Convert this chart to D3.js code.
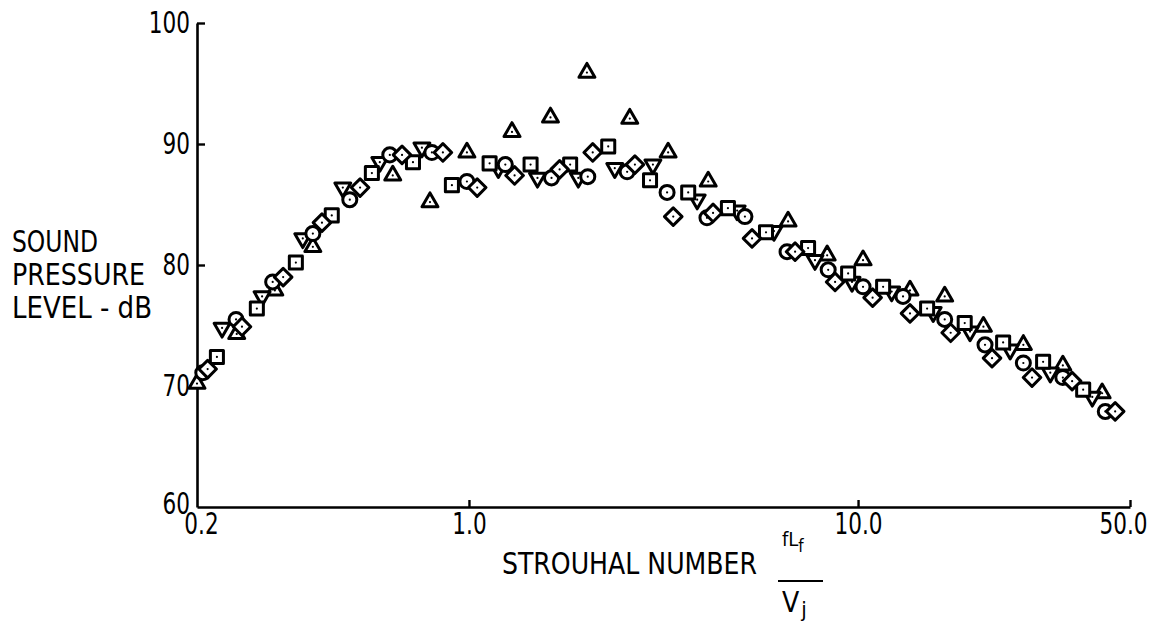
<!DOCTYPE html>
<html>
<head>
<meta charset="utf-8">
<script src="https://cdn.jsdelivr.net/npm/d3@7"></script>
<style>
  html, body { margin: 0; padding: 0; background: #fff; }
  svg text { font-family: "Liberation Sans Narrow", "DejaVu Sans Condensed", sans-serif; fill: #000; }
</style>
</head>
<body>
<svg id="chart" width="1163" height="624"></svg>
<script>
// ---- data (Strouhal number, SPL dB) ----
const xTicks = [0.2, 1.0, 10.0, 50.0];
const yTicks = [60, 70, 80, 90, 100];

const triUpX = [0.200, 0.253, 0.317, 0.397, 0.637, 0.794, 0.988, 1.29, 1.62, 2.01, 2.59, 3.25, 4.12, 6.61, 8.33, 10.3, 13.6, 16.7, 21.0, 26.6, 33.6, 42.4];
const triUpY = [70.2, 74.3, 77.9, 81.5, 87.4, 85.2, 89.3, 91.0, 92.2, 95.9, 92.1, 89.3, 86.9, 83.6, 80.8, 80.4, 77.9, 77.4, 74.9, 73.4, 71.7, 69.4];

const triDownX = [0.232, 0.294, 0.374, 0.474, 0.590, 0.757, 1.19, 1.50, 1.91, 2.37, 2.97, 3.86, 4.89, 6.08, 7.75, 9.65, 12.2, 15.6, 19.4, 24.6, 31.2, 40.0];
const triDownY = [74.8, 77.4, 82.2, 86.4, 88.5, 89.7, 88.0, 87.2, 87.2, 88.0, 88.3, 85.4, 84.5, 82.8, 80.4, 78.6, 77.8, 76.1, 74.5, 73.0, 71.1, 69.1];

const circleX = [0.207, 0.252, 0.313, 0.397, 0.494, 0.626, 0.803, 0.988, 1.24, 1.63, 2.02, 2.55, 3.23, 4.09, 5.12, 6.57, 8.38, 10.3, 13.05, 16.7, 21.2, 26.6, 33.6, 43.2];
const circleY = [71.1, 75.5, 78.6, 82.6, 85.4, 89.1, 89.3, 86.9, 88.3, 87.2, 87.3, 87.7, 86.0, 83.9, 84.0, 81.1, 79.6, 78.2, 77.4, 75.5, 73.4, 71.9, 70.7, 67.9];

const squareX = [0.225, 0.285, 0.359, 0.444, 0.563, 0.718, 0.904, 1.13, 1.44, 1.82, 2.28, 2.92, 3.66, 4.63, 5.80, 7.44, 9.43, 11.6, 15.05, 18.8, 23.6, 29.9, 37.9];
const squareY = [72.4, 76.4, 80.2, 84.1, 87.6, 88.5, 86.6, 88.4, 88.3, 88.3, 89.8, 87.0, 86.0, 84.7, 82.7, 81.4, 79.3, 78.2, 76.4, 75.2, 73.6, 72.0, 69.7];

const diamondX = [0.213, 0.261, 0.333, 0.419, 0.525, 0.673, 0.857, 1.05, 1.31, 1.71, 2.08, 2.67, 3.35, 4.24, 5.34, 6.89, 8.73, 10.9, 13.6, 17.3, 22.1, 28.0, 35.5, 45.8];
const diamondY = [71.4, 74.9, 79.0, 83.5, 86.4, 89.1, 89.3, 86.4, 87.4, 87.9, 89.3, 88.3, 84.0, 84.3, 82.2, 81.1, 78.6, 77.3, 76.0, 74.4, 72.3, 70.7, 70.4, 67.9];

const yTitleLines = ["SOUND", "PRESSURE", "LEVEL - dB"];
const xTitle = "STROUHAL NUMBER";

// ---- scales ----
const svg = d3.select("#chart");
const x = d3.scaleLog().domain([0.2, 50]).range([197, 1130]);
const y = d3.scaleLinear().domain([60, 100]).range([507, 23]);

const SX = 0.8; // horizontal squeeze for a condensed typewriter look

// ---- axes ----
const xAxis = d3.axisBottom(x).tickValues(xTicks).tickFormat(d3.format(".1f"))
  .tickSizeInner(-7).tickSizeOuter(0).tickPadding(6);
const yAxis = d3.axisLeft(y).tickValues(yTicks).tickFormat(d3.format("d"))
  .tickSizeInner(-8).tickSizeOuter(0).tickPadding(7);

const gx = svg.append("g").attr("transform", "translate(0,507)").call(xAxis);
const gy = svg.append("g").attr("transform", "translate(197,0)").call(yAxis);
[gx, gy].forEach(g => {
  g.select(".domain").attr("stroke", "#000").attr("stroke-width", 2.6);
  g.selectAll(".tick line").attr("stroke", "#000").attr("stroke-width", 2.4);
  g.selectAll(".tick text").attr("font-size", 30).attr("fill", "#000")
    .style("font-family", '"Liberation Sans Narrow", "DejaVu Sans Condensed", sans-serif')
    .attr("transform", `scale(${SX},1)`);
});
gy.selectAll(".tick text").attr("x", -7 / SX);
gy.selectAll(".tick").filter(d => d === 60).select("text").attr("dy", "0.2em");
gy.selectAll(".tick").filter(d => d === 60).select("line").remove();
gx.selectAll(".tick").filter(d => d === 0.2).select("line").remove();
gx.selectAll(".tick").filter(d => d === 0.2).select("text").attr("x", 4 / SX);
gx.selectAll(".tick").filter(d => d === 50).select("text").attr("x", -7 / SX);

// ---- titles ----
const titleWidths = [86, 133, 140];
yTitleLines.forEach((t, i) => {
  svg.append("text").attr("x", 12).attr("y", 252 + i * 33).attr("font-size", 31)
    .attr("textLength", titleWidths[i]).attr("lengthAdjust", "spacingAndGlyphs").text(t);
});
svg.append("text").attr("x", 502).attr("y", 574).attr("font-size", 31)
  .attr("textLength", 255).attr("lengthAdjust", "spacingAndGlyphs").text(xTitle);
// fraction fL_f / V_j
const num = svg.append("text").attr("x", 782).attr("y", 546).attr("font-size", 20);
num.append("tspan").text("fL");
num.append("tspan").attr("font-size", 17).attr("dy", 6).text("f");
svg.append("line").attr("x1", 778).attr("x2", 823).attr("y1", 581).attr("y2", 581)
  .attr("stroke", "#000").attr("stroke-width", 2.2);
const den = svg.append("text").attr("x", 782).attr("y", 612).attr("font-size", 28);
den.append("tspan").text("V");
den.append("tspan").attr("font-size", 22).attr("dy", 5).attr("dx", 2).text("j");

// ---- markers ----
const series = [
  { xs: triUpX,   ys: triUpY,   type: d3.symbolTriangle, size: 110, rot: 0 },
  { xs: triDownX, ys: triDownY, type: d3.symbolTriangle, size: 110, rot: 180 },
  { xs: circleX,  ys: circleY,  type: d3.symbolCircle,   size: 155, rot: 0 },
  { xs: squareX,  ys: squareY,  type: d3.symbolSquare,   size: 170, rot: 0 },
  { xs: diamondX, ys: diamondY, type: d3.symbolSquare,   size: 155, rot: 45 }
];
const markers = svg.append("g");
series.forEach(s => {
  const pts = s.xs.map((v, i) => [v, s.ys[i]]);
  const g = markers.append("g");
  g.selectAll("path").data(pts).join("path")
    .attr("d", d3.symbol().type(s.type).size(s.size))
    .attr("transform", d => `translate(${x(d[0])},${y(d[1])}) rotate(${s.rot})`)
    .attr("fill", "#fff").attr("stroke", "#000").attr("stroke-width", 3)
    .attr("stroke-linejoin", "round");
  g.selectAll("circle").data(pts).join("circle")
    .attr("cx", d => x(d[0])).attr("cy", d => y(d[1])).attr("r", 1.1).attr("fill", "#000");
});
</script>
</body>
</html>
